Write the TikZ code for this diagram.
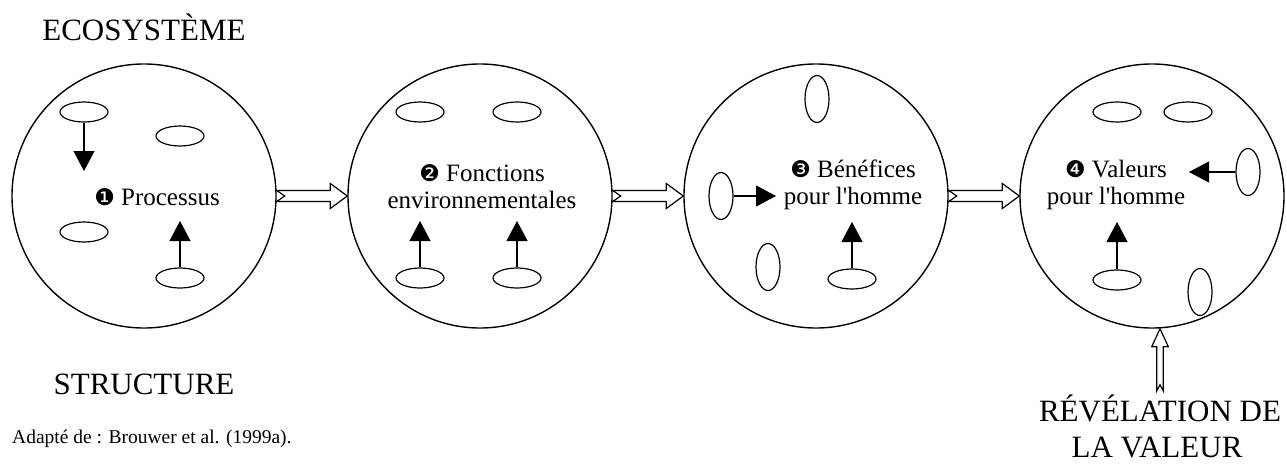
\documentclass[tikz,border=0pt]{standalone}
\usepackage{fontspec}
\setmainfont{Liberation Serif}
\newfontfamily\dingfont{DejaVu Sans}
\usetikzlibrary{arrows.meta,shapes.geometric,calc}
\newcommand\dnum[1]{{\dingfont\fontsize{23}{23}\selectfont #1}}
\newcommand\notcharrow[2]{%
  \draw[hollow] ($(#1.east)+(0,-5.5)$) -- ($(#2.west)+(-17,-5.5)$) -- ($(#2.west)+(-17,-12.5)$)
    -- (#2.west) -- ($(#2.west)+(-17,12.5)$) -- ($(#2.west)+(-17,5.5)$)
    -- ($(#1.east)+(0,5.5)$) -- ($(#1.east)+(8,0)$) -- cycle;}
\begin{document}
\begin{tikzpicture}[x=1pt,y=-1pt,
  bigcirc/.style={circle, draw, line width=1.4pt, minimum size=264pt, inner sep=0pt},
  hell/.style={ellipse, draw, line width=1.2pt, minimum width=48pt, minimum height=20pt, inner sep=0pt},
  vell/.style={ellipse, draw, line width=1.2pt, minimum width=24pt, minimum height=47pt, inner sep=0pt},
  flow/.style={line width=1.2pt, -{Triangle[length=20pt,width=21pt]}},
  hollow/.style={draw, fill=white, line width=1.2pt, line join=miter},
  lbl/.style={font=\fontsize{25}{27}\selectfont, align=center, inner sep=0pt},
  big/.style={font=\fontsize{31}{36}\selectfont, inner sep=0pt}]
\useasboundingbox (0,0) rectangle (1287,466);

% circles
\node[bigcirc] (c1) at (144,196) {};
\node[bigcirc] (c2) at (480,196) {};
\node[bigcirc] (c3) at (816,196) {};
\node[bigcirc] (c4) at (1152,196) {};

% circle 1
\node[hell] (e11) at (84,112) {};
\node[hell] (e12) at (180,136) {};
\node[hell] (e13) at (84,232) {};
\node[hell] (e14) at (180,278) {};
\coordinate (t11) at (84,171);
\coordinate (t14) at (180,221);
\draw[flow] (e11.south) -- (t11);
\draw[flow] (e14.north) -- (t14);
\node[lbl] (l1) at (157,197) {\dnum{❶} Processus};

% circle 2
\node[hell] (e21) at (420,112) {};
\node[hell] (e22) at (517,112) {};
\node[hell] (e23) at (420,278) {};
\node[hell] (e24) at (517,278) {};
\coordinate (t23) at (420,221);
\coordinate (t24) at (517,221);
\draw[flow] (e23.north) -- (t23);
\draw[flow] (e24.north) -- (t24);
\node[lbl] (l2) at (482,187) {\dnum{❷} Fonctions\\environnementales};

% circle 3
\node[vell] (v31) at (817,99) {};
\node[vell] (v32) at (721,196) {};
\node[vell] (v33) at (768,267) {};
\node[hell] (e34) at (852,279) {};
\coordinate (t32) at (776,196);
\coordinate (t34) at (852,222);
\draw[flow] (v32.east) -- (t32);
\draw[flow] (e34.north) -- (t34);
\node[lbl] (l3) at (853,185) {\dnum{❸} Bénéfices\\pour l\textquotesingle homme};

% circle 4
\node[hell] (e41) at (1117,112) {};
\node[hell] (e42) at (1188,112) {};
\node[vell] (v43) at (1248,172) {};
\node[hell] (e44) at (1117,280) {};
\node[vell] (v45) at (1200,292) {};
\coordinate (t43) at (1189,172);
\coordinate (t44) at (1117,222);
\draw[flow] (v43.west) -- (t43);
\draw[flow] (e44.north) -- (t44);
\node[lbl] (l4) at (1116,185) {\dnum{❹} Valeurs\\pour l\textquotesingle homme};

% hollow notched arrows between circles
\notcharrow{c1}{c2}
\notcharrow{c2}{c3}
\notcharrow{c3}{c4}

% revelation arrow
\coordinate (rt) at ($(c4.south)+(8,0)$);
\draw[hollow] (rt) -- ($(rt)+(8.3,18)$) -- ($(rt)+(3.2,18)$) -- ($(rt)+(3.2,62)$)
  -- ($(rt)+(0,56)$) -- ($(rt)+(-3.2,62)$) -- ($(rt)+(-3.2,18)$) -- ($(rt)+(-8.3,18)$) -- cycle;

% texts
\node[big, anchor=base] (eco) at (144,40) {ECOSYSTÈME};
\node[big, anchor=base] (str) at (144,394) {STRUCTURE};
\node[font=\fontsize{19.5}{23}\selectfont, inner sep=0pt, anchor=base west] (src) at (12,443) {Adapté de : Brouwer et al. (1999a).};
\node[big, anchor=base] (rev1) at (1160,421) {RÉVÉLATION DE};
\node[big, anchor=base] (rev2) at (1157,457) {LA VALEUR};
\end{tikzpicture}
\end{document}
